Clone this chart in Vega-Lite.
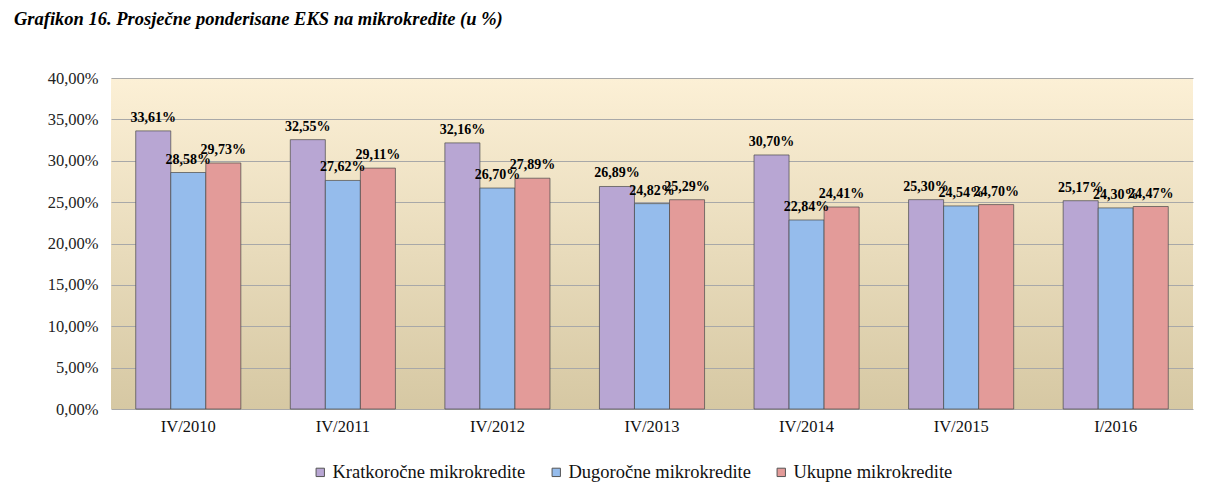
{
  "$schema": "https://vega.github.io/schema/vega-lite/v6.json",
  "autosize": {"type": "none"},
  "width": 1082,
  "height": 331,
  "padding": {"left": 111, "top": 78, "right": 15, "bottom": 81},
  "background": "white",
  "config": {
    "locale": {"number": {"decimal": ",", "thousands": ".", "grouping": [3], "currency": ["", " KM"]}},
    "font": "Liberation Serif",
    "legend": {"labelFont": "Liberation Serif", "titleFont": "Liberation Serif"},
    "view": {
      "stroke": null,
      "fill": {"gradient": "linear", "x1": 0, "y1": 0, "x2": 0, "y2": 1,
        "stops": [{"offset": 0, "color": "#FCF0D6"}, {"offset": 1, "color": "#D6C8A3"}]}
    }
  },
  "title": {
    "text": "Grafikon 16. Prosječne ponderisane EKS na mikrokredite (u %)",
    "anchor": "start",
    "frame": "group",
    "dx": -97,
    "offset": 42,
    "font": "Liberation Serif",
    "fontSize": 18.5,
    "fontWeight": "bold",
    "fontStyle": "italic",
    "color": "#000000"
  },
  "data": {
    "values": [
      {"period": "IV/2010", "series": "Kratkoročne mikrokredite", "value": 0.3361},
      {"period": "IV/2010", "series": "Dugoročne mikrokredite", "value": 0.2858},
      {"period": "IV/2010", "series": "Ukupne mikrokredite", "value": 0.2973},
      {"period": "IV/2011", "series": "Kratkoročne mikrokredite", "value": 0.3255},
      {"period": "IV/2011", "series": "Dugoročne mikrokredite", "value": 0.2762},
      {"period": "IV/2011", "series": "Ukupne mikrokredite", "value": 0.2911},
      {"period": "IV/2012", "series": "Kratkoročne mikrokredite", "value": 0.3216},
      {"period": "IV/2012", "series": "Dugoročne mikrokredite", "value": 0.2670},
      {"period": "IV/2012", "series": "Ukupne mikrokredite", "value": 0.2789},
      {"period": "IV/2013", "series": "Kratkoročne mikrokredite", "value": 0.2689},
      {"period": "IV/2013", "series": "Dugoročne mikrokredite", "value": 0.2482},
      {"period": "IV/2013", "series": "Ukupne mikrokredite", "value": 0.2529},
      {"period": "IV/2014", "series": "Kratkoročne mikrokredite", "value": 0.3070},
      {"period": "IV/2014", "series": "Dugoročne mikrokredite", "value": 0.2284},
      {"period": "IV/2014", "series": "Ukupne mikrokredite", "value": 0.2441},
      {"period": "IV/2015", "series": "Kratkoročne mikrokredite", "value": 0.2530},
      {"period": "IV/2015", "series": "Dugoročne mikrokredite", "value": 0.2454},
      {"period": "IV/2015", "series": "Ukupne mikrokredite", "value": 0.2470},
      {"period": "I/2016", "series": "Kratkoročne mikrokredite", "value": 0.2517},
      {"period": "I/2016", "series": "Dugoročne mikrokredite", "value": 0.2430},
      {"period": "I/2016", "series": "Ukupne mikrokredite", "value": 0.2447}
    ]
  },
  "encoding": {
    "x": {
      "field": "period", "type": "nominal", "sort": null,
      "scale": {"paddingInner": 0.32, "paddingOuter": 0.16},
      "axis": {"title": null, "labelAngle": 0, "domain": false, "ticks": false,
        "labelFont": "Liberation Serif", "labelFontSize": 16.5, "labelColor": "#111111", "labelPadding": 9}
    },
    "xOffset": {"field": "series", "type": "nominal",
      "sort": ["Kratkoročne mikrokredite", "Dugoročne mikrokredite", "Ukupne mikrokredite"]},
    "y": {
      "field": "value", "type": "quantitative",
      "scale": {"domain": [0, 0.4], "nice": false},
      "axis": {"title": null, "format": ".2%", "values": [0, 0.05, 0.1, 0.15, 0.2, 0.25, 0.3, 0.35, 0.4],
        "domain": false, "ticks": false, "gridColor": "#A8A8A8", "gridWidth": 1,
        "labelFont": "Liberation Serif", "labelFontSize": 16.5, "labelColor": "#222222", "labelPadding": 13}
    }
  },
  "layer": [
    {
      "mark": {"type": "bar", "stroke": "#4a4a4a", "strokeWidth": 1, "strokeOpacity": 0.7},
      "encoding": {
        "color": {
          "field": "series", "type": "nominal",
          "sort": ["Kratkoročne mikrokredite", "Dugoročne mikrokredite", "Ukupne mikrokredite"],
          "scale": {"domain": ["Kratkoročne mikrokredite", "Dugoročne mikrokredite", "Ukupne mikrokredite"],
            "range": ["#B8A6D3", "#95BCEC", "#E39B99"]},
          "legend": {
            "title": null, "orient": "none", "direction": "horizontal",
            "legendX": 200, "legendY": 385,
            "symbolType": "square", "symbolSize": 70, "symbolStrokeColor": "#555555", "symbolStrokeWidth": 1,
            "labelFont": "Liberation Serif", "labelFontSize": 18.5, "labelColor": "#111111",
            "columnPadding": 21, "labelOffset": 3, "labelLimit": 300
          }
        }
      }
    },
    {
      "mark": {"type": "text", "baseline": "alphabetic", "dy": -9, "font": "Liberation Serif", "fontSize": 14, "fontWeight": "bold", "color": "#000000"},
      "encoding": {
        "text": {"field": "value", "type": "quantitative", "format": ".2%"}
      }
    }
  ]
}
